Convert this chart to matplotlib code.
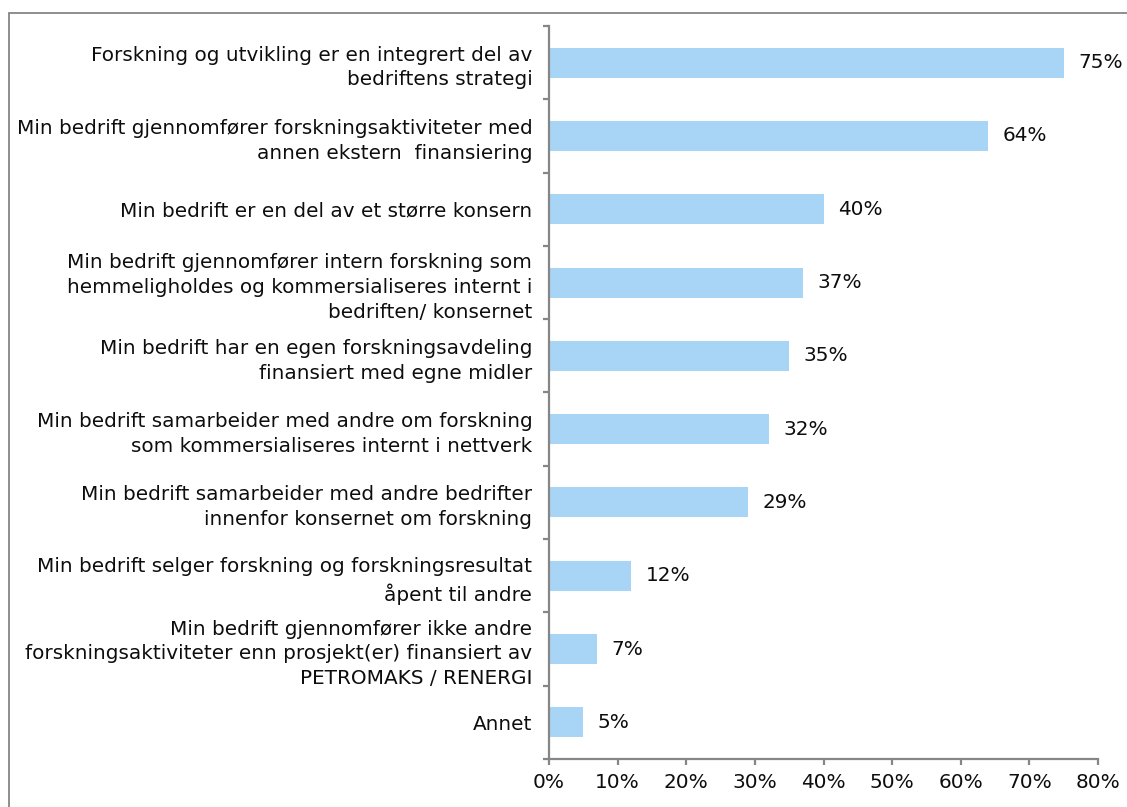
import matplotlib
matplotlib.use("Agg")
import matplotlib.pyplot as plt
from matplotlib.patches import Rectangle
from matplotlib.ticker import FuncFormatter, FixedLocator
import numpy as np

categories = [
    "Forskning og utvikling er en integrert del av\nbedriftens strategi",
    "Min bedrift gjennomfører forskningsaktiviteter med\nannen ekstern  finansiering",
    "Min bedrift er en del av et større konsern",
    "Min bedrift gjennomfører intern forskning som\nhemmeligholdes og kommersialiseres internt i\nbedriften/ konsernet",
    "Min bedrift har en egen forskningsavdeling\nfinansiert med egne midler",
    "Min bedrift samarbeider med andre om forskning\nsom kommersialiseres internt i nettverk",
    "Min bedrift samarbeider med andre bedrifter\ninnenfor konsernet om forskning",
    "Min bedrift selger forskning og forskningsresultat\nåpent til andre",
    "Min bedrift gjennomfører ikke andre\nforskningsaktiviteter enn prosjekt(er) finansiert av\nPETROMAKS / RENERGI",
    "Annet",
]
values = [75, 64, 40, 37, 35, 32, 29, 12, 7, 5]
x_ticks = [0, 10, 20, 30, 40, 50, 60, 70, 80]

BAR = "#A8D4F5"
AXIS = "#868686"
TEXT = "#0d0d0d"
FS = 14.4

W, H = 1127, 807
fig = plt.figure(figsize=(W / 100, H / 100), dpi=100)
fig.patch.set_facecolor("white")

# outer chart frame
fig.patches.append(Rectangle((9 / W, -0.1), 1.2, 1 - 13 / H + 0.1,
                             transform=fig.transFigure, fill=False,
                             edgecolor=AXIS, linewidth=1.3, zorder=0))

ax = fig.add_axes([549 / W, 1 - 759 / H, (1098 - 549) / W, (759 - 26) / H])

n = len(categories)
pos = np.arange(n)
ax.barh(pos, values, height=0.41, color=BAR, edgecolor="none", zorder=2)
ax.set_ylim(n - 0.5, -0.5)
ax.set_xlim(0, 80)

for p, v in zip(pos, values):
    ax.annotate(f"{v}%", xy=(v, p), xytext=(10.5, 0), textcoords="offset points",
                ha="left", va="center", fontsize=FS, color=TEXT)

for s in ["top", "right"]:
    ax.spines[s].set_visible(False)
for s in ["left", "bottom"]:
    ax.spines[s].set_color(AXIS)
    ax.spines[s].set_linewidth(1.6)

# y: tick marks at category boundaries, labels at centers
ax.yaxis.set_major_locator(FixedLocator(np.arange(n + 1) - 0.5))
ax.yaxis.set_major_formatter(FuncFormatter(lambda v, p: ""))
ax.yaxis.set_minor_locator(FixedLocator(pos))
ax.set_yticklabels(categories, minor=True)
ax.tick_params(axis="y", which="major", direction="out", length=4, width=1.6, color=AXIS)
ax.tick_params(axis="y", which="minor", length=0, pad=12, labelsize=FS, labelcolor=TEXT)
for t in ax.get_yticklabels(minor=True):
    t.set_horizontalalignment("right")
    t.set_multialignment("right")
    t.set_linespacing(1.38)

ax.set_xticks(x_ticks)
ax.xaxis.set_major_formatter(FuncFormatter(lambda v, p: f"{int(v)}%"))
ax.tick_params(axis="x", direction="out", length=4, width=1.6, color=AXIS, pad=6,
               labelsize=FS, labelcolor=TEXT)

fig.savefig("out.png", dpi=100)
